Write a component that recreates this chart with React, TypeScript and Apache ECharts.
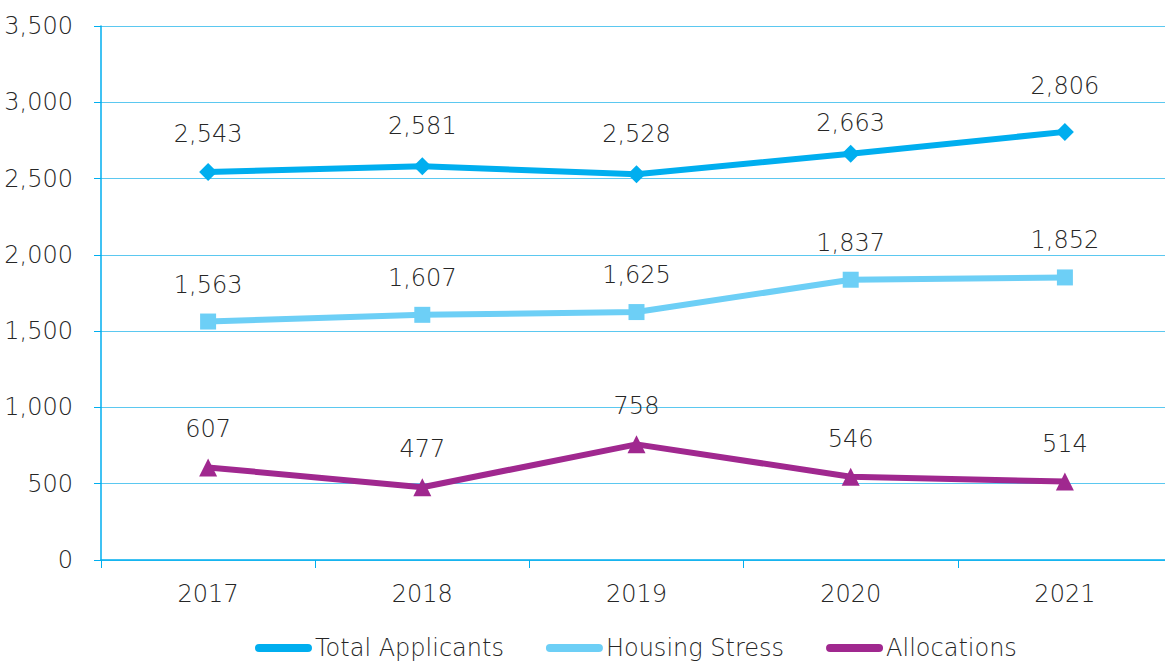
import React, { useEffect, useRef } from "react";
import * as echarts from "echarts";

const years = ["2017", "2018", "2019", "2020", "2021"];
const totalApplicants = [2543, 2581, 2528, 2663, 2806];
const housingStress = [1563, 1607, 1625, 1837, 1852];
const allocations = [607, 477, 758, 546, 514];
const seriesNames = ["Total Applicants", "Housing Stress", "Allocations"];

// label nudges (styling only), in px, per point of the Total Applicants series
const totalLabelNudge = [0, -2, -2, 7, -8];

const FONT = "'DejaVu Sans', 'Noto Sans', sans-serif";
const TEXT = "#262626";
const FS = 24;
const FW = 200;
const legendIcon = "path://M4,0 L52,0 A4,4 0 0 1 52,8 L4,8 A4,4 0 0 1 4,0 Z";

export default function App() {
  const ref = useRef<HTMLDivElement>(null);
  useEffect(() => {
    document.body.style.overflow = "hidden";
    if (!ref.current) return;
    const chart = echarts.init(ref.current, null, { renderer: "svg" });
    const label = {
      show: true,
      position: "top",
      distance: 17,
      fontSize: FS,
      fontWeight: FW,
      fontFamily: FONT,
      color: TEXT,
      formatter: (p: any) => Number(p.value).toLocaleString("en-US"),
    };
    const mk = (name: string, data: any[], color: string, symbol: string, size: number) => ({
      name,
      type: "line",
      data,
      symbol,
      symbolSize: size,
      lineStyle: { color, width: 6 },
      itemStyle: { color },
      label,
    });
    const totalData = totalApplicants.map((v, i) => ({
      value: v,
      label: { offset: [0, totalLabelNudge[i]] },
    }));
    chart.setOption({
      animation: false,
      grid: { left: 101, top: 26, right: 8, bottom: 104, containLabel: false },
      legend: {
        left: 250,
        top: 631,
        icon: legendIcon,
        itemWidth: 57,
        itemHeight: 9,
        itemGap: 42,
        textStyle: { fontSize: FS, fontWeight: FW, fontFamily: FONT, color: TEXT, padding: [0, 0, 0, -2] },
        data: seriesNames,
      },
      xAxis: {
        type: "category",
        data: years,
        boundaryGap: true,
        axisLine: { lineStyle: { color: "#00AEEF", width: 1.5 } },
        axisTick: { show: true, length: 8, lineStyle: { color: "#00AEEF" } },
        axisLabel: { fontSize: FS, fontWeight: FW, fontFamily: FONT, color: TEXT, margin: 22 },
      },
      yAxis: {
        type: "value",
        min: 0,
        max: 3500,
        interval: 500,
        axisLine: { show: true, lineStyle: { color: "#00AEEF", width: 1.5 } },
        axisTick: { show: true, length: 7, lineStyle: { color: "#00AEEF" } },
        splitLine: { lineStyle: { color: "#5BC8F0", width: 1.2 } },
        axisLabel: {
          fontSize: FS,
          fontWeight: FW,
          fontFamily: FONT,
          color: TEXT,
          margin: 28,
          formatter: (v: number) => v.toLocaleString("en-US"),
        },
      },
      series: [
        mk(seriesNames[0], totalData, "#00AEEF", "diamond", 18),
        mk(seriesNames[1], housingStress, "#6DCFF6", "rect", 16),
        mk(seriesNames[2], allocations, "#A0288F", "triangle", 18),
      ],
    });
    return () => chart.dispose();
  }, []);
  return (
    <div
      ref={ref}
      style={{ position: "fixed", left: 0, top: 0, width: 1180, height: 664, background: "#fff" }}
    />
  );
}
